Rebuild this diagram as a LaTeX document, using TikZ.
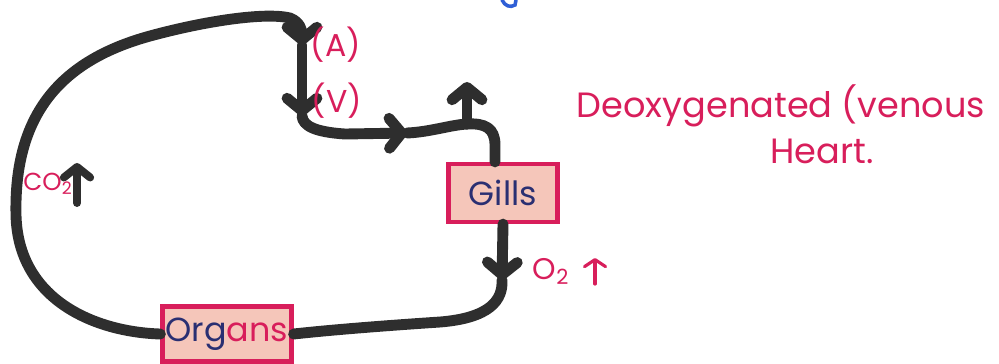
\documentclass[tikz,border=0pt]{standalone}
\usepackage{fontspec}
\setmainfont{Poppins}
\usetikzlibrary{arrows.meta}

\definecolor{ink}{HTML}{2E2E2E}
\definecolor{rosered}{HTML}{D81E5B}
\definecolor{boxfill}{HTML}{F5C6BA}
\definecolor{navy}{HTML}{2A2F72}
\definecolor{bluemark}{HTML}{2F5FD6}

\tikzset{
  vessel/.style={draw=ink, line width=6.2pt, line cap=round, line join=round},
  chev/.style={-{Straight Barb[length=7pt, width=17pt, round]}},
  organbox/.style={draw=rosered, fill=boxfill, line width=2.4pt, inner sep=0pt,
                   text=navy, font=\fontsize{19}{19}\selectfont},
  redlabel/.style={text=rosered, inner sep=0pt},
}

\begin{document}
\begin{tikzpicture}[x=0.02cm, y=-0.02cm]
  \useasboundingbox (0,0) rectangle (999,363);

  % organs in the circuit
  \node[organbox, minimum width=2.18cm, minimum height=1.16cm] (gills) at (503,193) {Gills};
  \node[organbox, minimum width=2.58cm, minimum height=1.1cm] (organs) at (227,334)
       {Org\textcolor{rosered}{ans}};

  % points along the heart and the branch
  \coordinate (aA) at (302,45);
  \coordinate (aV) at (302,116);
  \coordinate (rA) at (407,133);
  \coordinate (fork) at (467,124);
  \coordinate (upTip) at (467,82);
  \coordinate (gA) at (502,280);

  % body return to the heart
  \draw[vessel, chev] (organs.west) .. controls (95,332) and (18,300) .. (16,215)
        .. controls (14,120) and (55,62) .. (150,36)
        .. controls (205,21) and (265,12) .. (290,18)
        .. controls (300,22) and (302,30) .. (aA);
  \draw[vessel, chev] (aA) -- (aV);
  % heart to gills
  \draw[vessel, chev] (aV) .. controls (303,126) and (315,132) .. (345,134) -- (rA);
  \draw[vessel] (rA) .. controls (430,132) and (450,125) .. (fork);
  \draw[vessel] (fork) .. controls (485,123) and (495,128) .. (495,145) -- ([xshift=-0.16cm]gills.north);
  \draw[vessel, chev] (fork) -- (upTip);
  % gills to body
  \draw[vessel, chev] (gills.south) -- (gA);
  \draw[vessel] (gA) .. controls (503,300) and (490,318) .. (440,322)
        .. controls (380,326) and (330,330) .. (organs.east);

  % labels
  \node[redlabel, font=\fontsize{18}{18}\selectfont] (lblA) at (336,45) {(A)};
  \node[redlabel, font=\fontsize{18}{18}\selectfont] (lblV) at (337,101) {(V)};
  \node[redlabel, font=\fontsize{14}{14}\selectfont] (co2) at (48,184) {CO\textsubscript{2}};
  \coordinate (co2a) at (77,203);
  \coordinate (co2b) at (77,163);
  \draw[ink, line width=4.5pt, line cap=round, -{Straight Barb[length=6pt, width=15pt, round]}] (co2a) -- (co2b);

  \node[redlabel, font=\fontsize{17}{17}\selectfont] (o2) at (551,271) {O\textsubscript{2}};
  \coordinate (o2a) at (595,284);
  \coordinate (o2b) at (595,258);
  \draw[rosered, line width=1.8pt, line cap=round, -{Straight Barb[length=4pt, width=12pt, round]}] (o2a) -- (o2b);

  \node[redlabel, font=\fontsize{20}{20}\selectfont, anchor=base] (title1) at (781,117) {Deoxygenated (venous};
  \node[redlabel, font=\fontsize{20}{20}\selectfont, anchor=base] (title2) at (822,163) {Heart.};

  % stray blue stroke at the top edge
  \draw[bluemark, line width=2pt, line cap=round] (502,0) .. controls (505,6) and (510,8) .. (515,5) -- (516,0);
\end{tikzpicture}
\end{document}
